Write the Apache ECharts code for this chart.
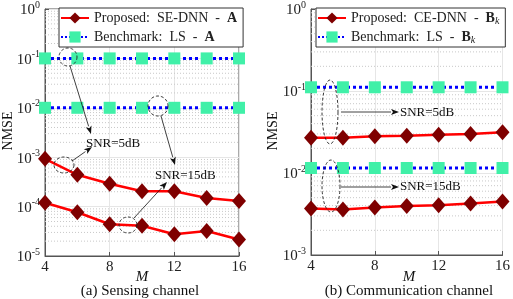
<!DOCTYPE html>
<html><head><meta charset="utf-8">
<script src="https://cdn.jsdelivr.net/npm/echarts@6/dist/echarts.min.js"></script>
<style>html,body{margin:0;padding:0;background:#fff}#c{width:513px;height:299px}</style>
</head><body><div id="c"></div>
<script>
// ---- data ----
const M = [4, 6, 8, 10, 12, 14, 16];
const xTicks = [4, 8, 12, 16];
// (a) sensing channel
const seDnn5 = [9.3e-4, 4.4e-4, 2.9e-4, 2.05e-4, 2.05e-4, 1.5e-4, 1.3e-4];
const seDnn15 = [1.2e-4, 7.7e-5, 4.4e-5, 4.1e-5, 2.75e-5, 3.2e-5, 2.15e-5];
const lsA5 = [0.1, 0.1, 0.1, 0.1, 0.1, 0.1, 0.1];
const lsA15 = [0.01, 0.01, 0.01, 0.01, 0.01, 0.01, 0.01];
// (b) communication channel
const ceDnn5 = [0.027, 0.027, 0.028, 0.0285, 0.0293, 0.0298, 0.0315];
const ceDnn15 = [3.7e-3, 3.6e-3, 3.8e-3, 3.95e-3, 4.05e-3, 4.25e-3, 4.5e-3];
const lsB5 = [0.111, 0.111, 0.111, 0.111, 0.111, 0.111, 0.111];
const lsB15 = [0.0115, 0.0115, 0.0115, 0.0115, 0.0115, 0.0115, 0.0115];
const yTicksA = [1e-5, 1e-4, 1e-3, 1e-2, 1e-1, 1];
const yTicksB = [1e-3, 1e-2, 1e-1, 1];
const nameProp = ['Proposed: SE-DNN - A', 'Proposed: CE-DNN - B'];
const nameLS = ['Benchmark: LS - A', 'Benchmark: LS - B'];
const subTitles = ['(a) Sensing channel', '(b) Communication channel'];

const FONT = 'Liberation Serif';
function minorVals(ticks) {
  const out = [];
  for (let i = 0; i < ticks.length - 1; i++) for (let k = 2; k <= 9; k++) out.push(ticks[i] * k);
  return out;
}
function pairs(y) { return M.map((m, i) => [m, y[i]]); }

const grids = [
  { left: 45, top: 8, width: 194, height: 248 },
  { left: 311, top: 8, width: 196, height: 247 }
];

function xAxisCfg(i) {
  return {
    type: 'value', gridIndex: i, min: 4, max: 16, interval: 4,
    axisLine: { lineStyle: { color: '#555' } },
    axisTick: { inside: true, length: 4, lineStyle: { color: '#555' } },
    axisLabel: { fontFamily: FONT, fontSize: 15, color: '#222', margin: 4 },
    splitLine: { show: true, lineStyle: { color: '#e6e6e6', width: 1 } }
  };
}
function yAxisCfg(i, min) {
  return {
    type: 'log', logBase: 10, gridIndex: i, min: min, max: 1,
    axisLine: { lineStyle: { color: '#555' } },
    axisTick: { inside: true, length: 4, lineStyle: { color: '#555' } },
    axisLabel: {
      margin: 5,
      formatter: v => '{b|10}{s|' + Math.round(Math.log10(v)) + '}',
      rich: {
        b: { fontFamily: FONT, fontSize: 15, color: '#222', verticalAlign: 'bottom', lineHeight: 18 },
        s: { fontFamily: FONT, fontSize: 10, color: '#222', verticalAlign: 'top', lineHeight: 18 }
      }
    },
    splitLine: { show: true, lineStyle: { color: '#e6e6e6', width: 1 } }
  };
}
function propSeries(i, name, data) {
  return {
    type: 'line', name: name, xAxisIndex: i, yAxisIndex: i, data: pairs(data),
    symbol: 'diamond', symbolSize: [14, 16], z: 4,
    lineStyle: { color: '#ff0000', width: 2.5 },
    itemStyle: { color: '#7f0000' }
  };
}
function lsSeries(i, name, data) {
  return {
    type: 'line', name: name, xAxisIndex: i, yAxisIndex: i, data: pairs(data),
    symbol: 'rect', symbolSize: 12, z: 3,
    lineStyle: { color: '#0000ff', width: 3, type: 'dotted' },
    itemStyle: { color: '#40f0a8' }
  };
}
// minor log grid lines (2..9 within each decade)
function minorGridSeries(i, ticks) {
  return minorVals(ticks).map(v => ({
    type: 'line', name: '_minor', xAxisIndex: i, yAxisIndex: i,
    data: [[xTicks[0], v], [xTicks[xTicks.length - 1], v]],
    symbol: 'none', silent: true, z: 1,
    lineStyle: { color: '#c8c8c8', width: 1, type: [1, 2] }
  }));
}
function legendCfg(i, left) {
  return {
    left: left, top: 8, orient: 'vertical',
    data: [nameProp[i], nameLS[i]],
    itemWidth: 28, itemHeight: 14, itemGap: 3,
    backgroundColor: '#fff', borderColor: '#333', borderWidth: 1,
    padding: [2, 6, 2, 1],
    selectedMode: false,
    formatter: n => {
      const parts = n.split(': ');
      const rest = parts[1].slice(0, -1).replace(' - ', '  -  ');
      const head = parts[0] + ':  ' + rest;
      if (n.endsWith('A')) return head + '{bb|A}';
      return head + '{bb|B}{sub|k}';
    },
    textStyle: {
      fontFamily: FONT, fontSize: 14, color: '#222', lineHeight: 16,
      rich: {
        bb: { fontFamily: FONT, fontSize: 14, fontWeight: 'bold', color: '#222', lineHeight: 16 },
        sub: { fontFamily: FONT, fontSize: 10, fontStyle: 'italic', color: '#222', verticalAlign: 'bottom', lineHeight: 14, padding: [6, 0, 0, 0] }
      }
    }
  };
}

// annotation helpers
function ellipse(cx, cy, rx, ry) {
  const pts = [];
  for (let k = 0; k < 48; k++) { const t = k / 48 * Math.PI * 2; pts.push([cx + rx * Math.cos(t), cy + ry * Math.sin(t)]); }
  return { type: 'polygon', shape: { points: pts }, style: { fill: null, stroke: '#222', lineWidth: 0.9, lineDash: [3, 2] }, z: 50 };
}
function arrow(x1, y1, x2, y2) {
  const a = Math.atan2(y2 - y1, x2 - x1), L = 8, W = 3;
  const bx = x2 - L * Math.cos(a), by = y2 - L * Math.sin(a);
  const nx = -Math.sin(a), ny = Math.cos(a);
  return [
    { type: 'line', shape: { x1: x1, y1: y1, x2: bx, y2: by }, style: { stroke: '#111', lineWidth: 0.8 }, z: 50 },
    { type: 'polygon', shape: { points: [[x2, y2], [bx + nx * W, by + ny * W], [bx + 2 * Math.cos(a), by + 2 * Math.sin(a)], [bx - nx * W, by - ny * W]] }, style: { fill: '#111' }, z: 50 }
  ];
}
function text(x, y, t, size, opts) {
  opts = opts || {};
  return { type: 'text', x: x, y: y, z: 50, rotation: opts.rot || 0,
    style: { text: t, fontFamily: FONT, fontSize: size, fontWeight: 'normal', fontStyle: opts.italic ? 'italic' : 'normal',
      fill: '#111', align: opts.center ? 'center' : 'left', verticalAlign: 'middle' } };
}

const graphics = [
  ellipse(68, 57, 9, 9), ...arrow(70, 66, 91, 134), text(86, 144, 'SNR=5dB', 13),
  ellipse(64, 165, 10, 8), ...arrow(72, 161, 92, 147),
  ellipse(158, 106, 10, 10), ...arrow(161, 116, 175, 165), text(155, 176, 'SNR=15dB', 13),
  ellipse(128, 225, 9, 8), ...arrow(134, 218, 167, 182),
  ellipse(330, 112, 8, 32), ...arrow(341, 112, 399, 112), text(400, 113, 'SNR=5dB', 13),
  ellipse(331, 186, 9, 26), ...arrow(341, 187, 399, 187), text(400, 187, 'SNR=15dB', 13),
  text(142, 277, 'M', 15, { italic: true, center: true }),
  text(409, 277, 'M', 15, { italic: true, center: true }),
  text(8, 131, 'NMSE', 14, { rot: Math.PI / 2, center: true }),
  text(273, 131, 'NMSE', 14, { rot: Math.PI / 2, center: true }),
  text(140, 291, subTitles[0], 15, { center: true }),
  text(409, 291, subTitles[1], 15, { center: true })
];

const chart = echarts.init(document.getElementById('c'), null, { renderer: 'canvas' });
chart.setOption({
  animation: false,
  backgroundColor: '#fff',
  grid: grids.map(g => Object.assign({ show: true, borderColor: '#555', borderWidth: 1, backgroundColor: 'transparent' }, g)),
  xAxis: [xAxisCfg(0), xAxisCfg(1)],
  yAxis: [yAxisCfg(0, 1e-5), yAxisCfg(1, 1e-3)],
  legend: [legendCfg(0, 59), legendCfg(1, 316)],
  series: [].concat(
    minorGridSeries(0, yTicksA),
    minorGridSeries(1, yTicksB),
    [
      lsSeries(0, nameLS[0], lsA5),
      lsSeries(0, nameLS[0], lsA15),
      propSeries(0, nameProp[0], seDnn5),
      propSeries(0, nameProp[0], seDnn15),
      lsSeries(1, nameLS[1], lsB5),
      lsSeries(1, nameLS[1], lsB15),
      propSeries(1, nameProp[1], ceDnn5),
      propSeries(1, nameProp[1], ceDnn15)
    ]
  ),
  graphic: graphics
});
</script></body></html>
